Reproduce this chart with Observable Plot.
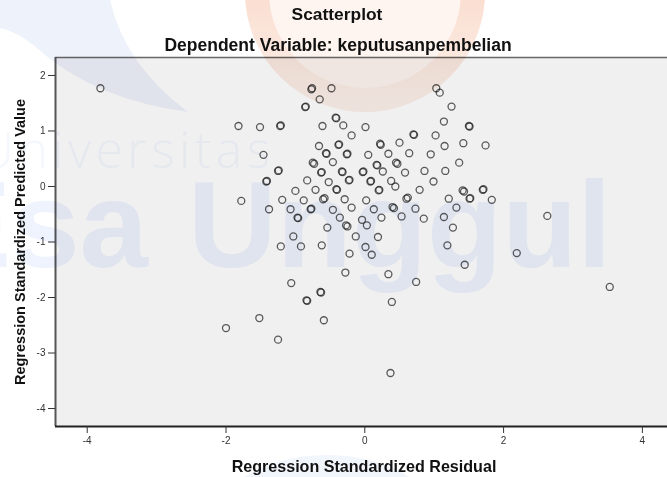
<!DOCTYPE html>
<html>
<head>
<meta charset="utf-8">
<script src="https://cdn.jsdelivr.net/npm/d3@7"></script>
<script src="https://cdn.jsdelivr.net/npm/@observablehq/plot@0.6"></script>
<style>
  html, body { margin: 0; padding: 0; background: #ffffff; }
  #wrap { position: relative; width: 667px; height: 477px; overflow: hidden; }
  #chart, #wm, #labels { position: absolute; left: 0; top: 0; }
  #wm { mix-blend-mode: multiply; pointer-events: none; }
  #labels { pointer-events: none; }
</style>
</head>
<body>
<div id="wrap">
  <div id="chart"></div>
  <svg id="wm" width="667" height="477" viewBox="0 0 667 477">
    <defs>
      <linearGradient id="ringGrad" x1="0" y1="0" x2="0" y2="1">
        <stop offset="0" stop-color="#f8c9b2"/>
        <stop offset="0.45" stop-color="#fadccd"/>
        <stop offset="1" stop-color="#fcefe9"/>
      </linearGradient>
    </defs>
    <circle cx="365" cy="-8" r="120" fill="#fef5f1"/>
    <circle cx="365" cy="-8" r="108" fill="none" stroke="url(#ringGrad)" stroke-width="24"/>
    <path d="M0,0 L110,0 Q125,65 188,112 Q100,100 45,55 Q20,32 0,28 Z" fill="#eef2fa"/>
    <text x="-22" y="168" font-family="'Open Sans', Lato, sans-serif" font-weight="300" font-size="50" textLength="292" lengthAdjust="spacing" fill="#f4f7fd">Universitas</text>
    <text x="148" y="267" text-anchor="end" font-family="'Liberation Sans', Arial, sans-serif" font-weight="bold" font-size="123" fill="#eef3fd">Esa</text>
    <text x="188" y="267" font-family="'Liberation Sans', Arial, sans-serif" font-weight="bold" font-size="123" fill="#eef3fd">Unggul</text>
    <ellipse cx="327" cy="535" rx="120" ry="80" fill="#f1f5fc"/>
  </svg>
  <svg id="labels" width="667" height="477" viewBox="0 0 667 477"
       font-family="'Liberation Sans', Arial, sans-serif" font-weight="bold" fill="#111">
    <text id="title" x="337" y="20" text-anchor="middle" font-size="17.4"></text>
    <text id="subtitle" x="338" y="51" text-anchor="middle" font-size="17.5"></text>
    <text id="xlabel" x="364" y="472" text-anchor="middle" font-size="16.1"></text>
    <text id="ylabel" transform="translate(25,242) rotate(-90)" text-anchor="middle" font-size="14.5"></text>
  </svg>
</div>
<script>
// ---- texts ----
const titleText = "Scatterplot";
const subtitleText = "Dependent Variable: keputusanpembelian";
const xLabelText = "Regression Standardized Residual";
const yLabelText = "Regression Standardized Predicted Value";

// ---- axes ----
const xDomain = [-4.457, 4.362];
const yDomain = [-4.324, 2.324];
const xTicks = [-4, -2, 0, 2, 4];
const yTicks = [-4, -3, -2, -1, 0, 1, 2];

// ---- data ----
const residual = [
  -3.81, -0.77, -0.76, -0.48, -0.65, -0.85, -0.86, 1.03, 1.08, 1.25,
  1.14, 1.50, 1.51, -1.82, -1.51, -1.22, -1.21, -0.61, -0.42, -0.41,
  -0.31, -0.19, 0.01, 0.70, 0.71, 1.02, -1.46, -0.66, -0.56, -0.55,
  -0.38, -0.37, -0.25, -0.26, 0.05, 0.22, 0.23, 0.50, 1.15, 1.42,
  1.74, 0.34, 0.64, 0.95, 1.36, -0.75, -0.73, -0.46, 0.18, 0.17,
  0.45, 0.47, -1.25, -1.24, -1.42, -1.41, -0.63, -0.62, -0.33, -0.32,
  -0.03, -0.02, 0.26, 0.58, 0.86, 1.16, -0.83, -0.52, -0.23, -0.22,
  0.09, 0.08, 0.38, 0.44, 0.99, -1.00, -0.71, -0.41, -0.40, 0.20,
  0.21, 0.79, 1.41, 1.43, 1.70, 1.71, -1.78, -1.19, -0.88, -0.60,
  -0.58, -0.29, 0.02, 0.60, 0.62, 1.21, 1.51, 1.52, 1.83, -1.38,
  -1.07, -0.78, -0.77, -0.46, -0.19, 0.13, 0.42, 0.40, 0.73, 1.32,
  -0.97, -0.96, -0.36, -0.04, 0.24, 0.53, 0.85, 1.14, 0.03, -0.54,
  -0.25, -0.27, 1.27, 2.63, -1.03, -0.13, 0.19, -1.21, -0.92, -0.62,
  0.01, -0.22, 0.10, 1.19, 2.19, 1.44, -0.28, 0.34, -1.06, 0.74,
  -0.64, -0.63, -0.84, -0.83, 0.39, 3.53, -1.52, -2.00, -0.59, -1.25,
  0.37
];
const predicted = [
  1.77, 1.75, 1.77, 1.77, 1.57, 1.44, 1.43, 1.77, 1.69, 1.44,
  1.17, 1.09, 1.08, 1.09, 1.07, 1.09, 1.10, 1.09, 1.24, 1.23,
  1.10, 0.92, 1.07, 0.94, 0.93, 0.92, 0.57, 0.73, 0.60, 0.59,
  0.75, 0.76, 0.59, 0.58, 0.57, 0.77, 0.75, 0.79, 0.73, 0.78,
  0.74, 0.59, 0.60, 0.58, 0.43, 0.43, 0.41, 0.44, 0.38, 0.39,
  0.43, 0.41, 0.28, 0.29, 0.09, 0.10, 0.25, 0.26, 0.27, 0.26,
  0.26, 0.27, 0.27, 0.25, 0.28, 0.28, 0.11, 0.08, 0.11, 0.12,
  0.10, 0.09, 0.10, 0.00, 0.09, -0.08, -0.06, -0.05, -0.06, -0.07,
  -0.06, -0.06, -0.07, -0.09, -0.06, -0.05, -0.26, -0.24, -0.25, -0.23,
  -0.21, -0.23, -0.25, -0.22, -0.20, -0.22, -0.22, -0.21, -0.24, -0.41,
  -0.41, -0.41, -0.40, -0.42, -0.38, -0.41, -0.39, -0.37, -0.40, -0.38,
  -0.56, -0.57, -0.56, -0.60, -0.56, -0.54, -0.58, -0.55, -0.70, -0.74,
  -0.72, -0.70, -0.74, -0.53, -0.90, -0.90, -0.91, -1.08, -1.08, -1.06,
  -1.09, -1.21, -1.23, -1.06, -1.20, -1.41, -1.55, -1.58, -1.74, -1.72,
  -1.90, -1.91, -2.05, -2.06, -2.08, -1.81, -2.37, -2.55, -2.41, -2.76,
  -3.36
];

const data = residual.map((r, i) => ({ residual: r, predicted: predicted[i] }));

const chart = Plot.plot({
  width: 667,
  height: 477,
  marginTop: 57,
  marginLeft: 55,
  marginRight: 0,
  marginBottom: 51,
  style: { background: "transparent", fontFamily: "'Liberation Sans', Arial, sans-serif", color: "#222" },
  x: { domain: xDomain },
  y: { domain: yDomain },
  marks: [
    Plot.frame({ fill: "#f0f0f0", stroke: "none" }),
    Plot.ruleY([yDomain[1]], { stroke: "#666", strokeWidth: 1.5 }),
    Plot.ruleX([xDomain[0]], { stroke: "#555", strokeWidth: 2 }),
    Plot.ruleY([yDomain[0]], { stroke: "#222", strokeWidth: 2 }),
    Plot.axisX({ ticks: xTicks, tickSize: 7, tickPadding: 3, fontSize: 10, color: "#333", label: null, tickFormat: d => `${d}` }),
    Plot.axisY({ ticks: yTicks, tickSize: 7, tickPadding: 3, fontSize: 10, color: "#333", label: null, tickFormat: d => `${d}` }),
    Plot.dot(data, { x: "residual", y: "predicted", r: 3.5, stroke: "#1e1e1e", strokeWidth: 1.3, strokeOpacity: 0.72, fill: "none" })
  ]
});
document.getElementById("chart").appendChild(chart);

document.getElementById("title").textContent = titleText;
document.getElementById("subtitle").textContent = subtitleText;
document.getElementById("xlabel").textContent = xLabelText;
document.getElementById("ylabel").textContent = yLabelText;
</script>
</body>
</html>
